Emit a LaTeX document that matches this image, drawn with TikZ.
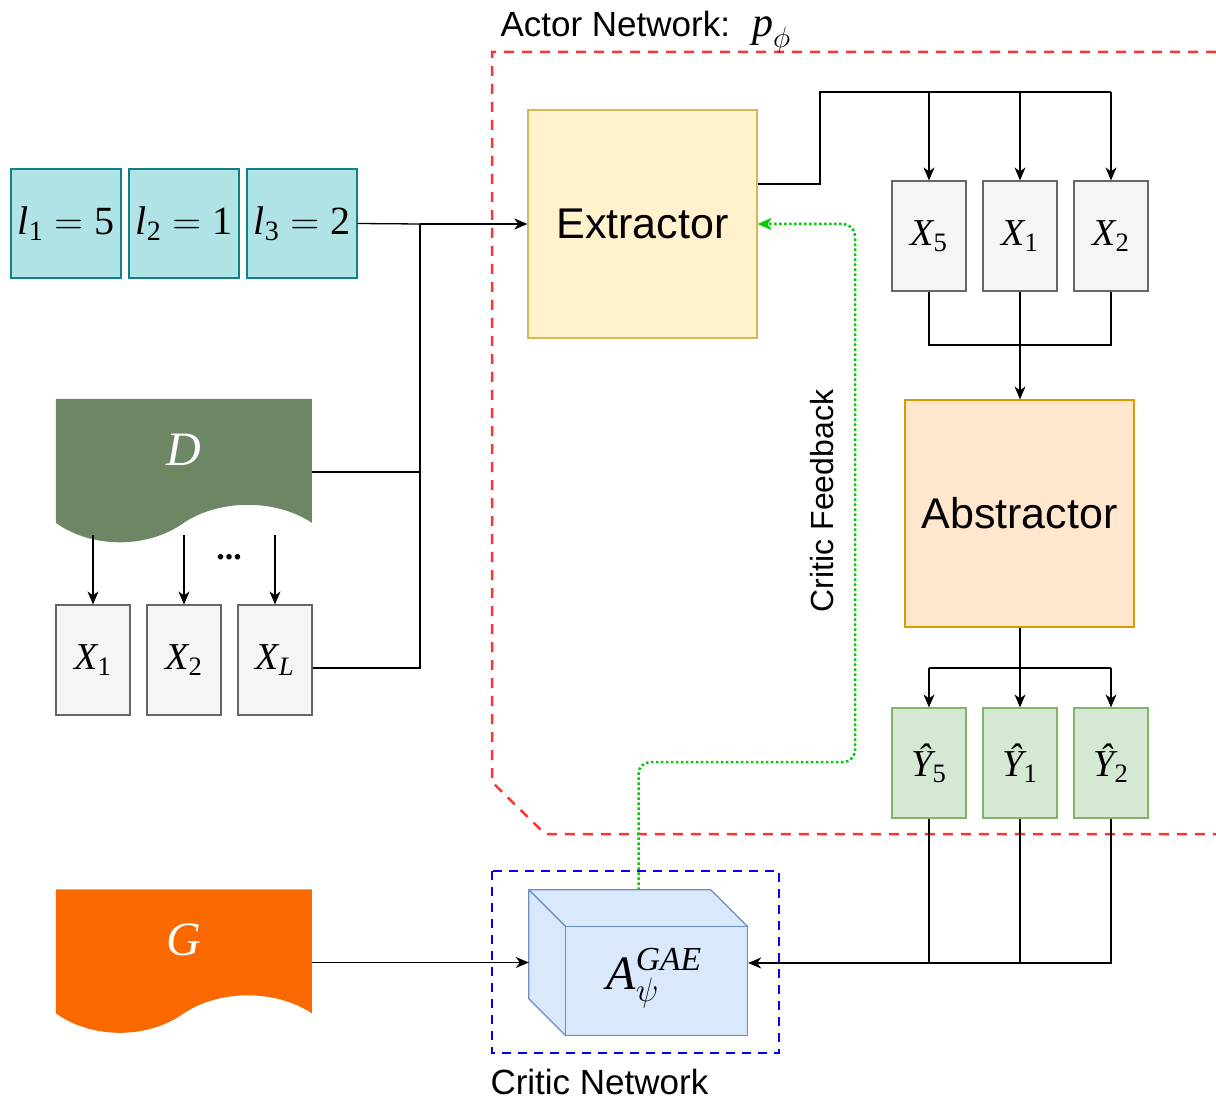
\RequirePackage{fix-cm}
\documentclass[tikz,border=0pt]{standalone}
\usepackage{amsmath}
\usepackage{fontspec}
\setmainfont{Liberation Sans}
\newfontfamily\tms{Liberation Serif}
\usetikzlibrary{arrows.meta}
\definecolor{tealF}{HTML}{B0E3E6}
\definecolor{tealD}{HTML}{0E8088}
\definecolor{extF}{HTML}{FFF2CC}
\definecolor{extD}{HTML}{D6B656}
\definecolor{greyF}{HTML}{F5F5F5}
\definecolor{greyD}{HTML}{666666}
\definecolor{absF}{HTML}{FFE6CC}
\definecolor{absD}{HTML}{D79B00}
\definecolor{yF}{HTML}{D5E8D4}
\definecolor{yD}{HTML}{82B366}
\definecolor{cubeF}{HTML}{DAE8FC}
\definecolor{cubeD}{HTML}{6C8EBF}
\definecolor{dgreen}{HTML}{6D8764}
\definecolor{gorange}{HTML}{FA6800}
\definecolor{actred}{HTML}{FF3333}
\definecolor{crblue}{HTML}{0000FF}
\definecolor{fbgreen}{HTML}{00CC00}
\newcommand{\fsz}[1]{\fontsize{#1}{#1}\selectfont}
\newcommand{\tmi}[1]{\text{\tms\itshape #1}}
\newcommand{\tmr}[1]{\text{\tms #1}}
\begin{document}
\begin{tikzpicture}[x=1pt,y=-1pt,
  tealbox/.style={draw=tealD, fill=tealF, line width=1.2pt, minimum width=110pt, minimum height=109pt, inner sep=0pt, font=\fsz{40}},
  gbox/.style={draw=greyD, fill=greyF, line width=1.2pt, minimum width=74pt, minimum height=110pt, inner sep=0pt, font=\fsz{38}},
  ybox/.style={gbox, draw=yD, fill=yF},
  bigbox/.style={line width=1.2pt, minimum width=229pt, minimum height=228pt, inner sep=0pt, font=\fsz{43}},
  conn/.style={line width=1.3pt, black},
  arr/.style={conn, -{Stealth[length=13pt,width=11pt,inset=4pt]}},
  fb/.style={line width=2.5pt, fbgreen, dash pattern=on 2.5pt off 2.5pt, -{Stealth[length=14pt,width=12pt,inset=4pt]}},
  docnode/.style={minimum width=256pt, minimum height=146pt, inner sep=0pt},
  doclab/.style={text=white, font=\fsz{48}},
  lab/.style={font=\fsz{35}}
]
\useasboundingbox (0,0) rectangle (1216,1099);

% Actor network region
\draw[actred, line width=2.5pt, dash pattern=on 10pt off 8pt] (1216,52) -- (492,52) -- (492,782) -- (545,834) -- (1216,834);
\node[lab, anchor=base west] (actorlab) at (497,37) {Actor Network:\hspace{22pt}{\fsz{42}$\tmi{p}_\phi$}};

% Critic network region
\draw[crblue, line width=2.5pt, dash pattern=on 9pt off 7pt] (492,871) rectangle (779,1053);
\node[lab, anchor=base west] (criticlab) at (487,1094) {Critic Network};

% length boxes
\node[tealbox] (l1) at (66,223.5) {$\tmi{l}_{\tmr{1}}=\tmr{5}$};
\node[tealbox] (l2) at (184,223.5) {$\tmi{l}_{\tmr{2}}=\tmr{1}$};
\node[tealbox] (l3) at (302,223.5) {$\tmi{l}_{\tmr{3}}=\tmr{2}$};

% Extractor and abstractor
\node[bigbox, draw=extD, fill=extF] (ext) at (642.5,224) {Extractor};
\node[bigbox, draw=absD, fill=absF, minimum height=227pt] (abs) at (1019.5,513.5) {Abstractor};

% Selected sentences
\node[gbox] (S5) at (929,236) {$\tmi{X}_{\tmr{5}}$};
\node[gbox] (S1) at (1020,236) {$\tmi{X}_{\tmr{1}}$};
\node[gbox] (S2) at (1111,236) {$\tmi{X}_{\tmr{2}}$};

% Outputs
\node[ybox] (Y5) at (929,763) {$\tmi{Ŷ}_{\tmr{5}}$};
\node[ybox] (Y1) at (1020,763) {$\tmi{Ŷ}_{\tmr{1}}$};
\node[ybox] (Y2) at (1111,763) {$\tmi{Ŷ}_{\tmr{2}}$};

% Document D
\node[docnode] (D) at (184,472) {};
\begin{scope}[shift={(D.north west)}]
  \fill[dgreen] (0,0) -- (256,0) -- (256,124) .. controls (220,100) and (164,100) .. (128,124) .. controls (92,150) and (36,150) .. (0,124) -- cycle;
\end{scope}
\node[doclab] (Dlab) at (184,450) {$\tmi{D}$};

% Sentences X
\node[gbox] (Xa) at (93,660) {$\tmi{X}_{\tmr{1}}$};
\node[gbox] (Xb) at (184,660) {$\tmi{X}_{\tmr{2}}$};
\node[gbox] (Xc) at (275,660) {$\tmi{X}_{\tmi{L}}$};
\node[font=\fsz{34}\tms\bfseries] (dots) at (229,557) {...};

% Document G
\node[docnode] (G) at (184,962.5) {};
\begin{scope}[shift={(G.north west)}]
  \fill[gorange] (0,0) -- (256,0) -- (256,124) .. controls (220,100) and (164,100) .. (128,124) .. controls (92,150) and (36,150) .. (0,124) -- cycle;
\end{scope}
\node[doclab] (Glab) at (184,940) {$\tmi{G}$};

% Critic cube
\node[minimum width=219pt, minimum height=146pt, inner sep=0pt] (cube) at (638.5,963) {};
\begin{scope}[shift={(cube.north west)}, draw=cubeD, fill=cubeF, line width=1.2pt, line join=round]
  \filldraw (0,0) -- (182,0) -- (219,37) -- (37,37) -- cycle;
  \filldraw (0,0) -- (37,37) -- (37,146) -- (0,109) -- cycle;
  \filldraw (37,37) rectangle (219,146);
\end{scope}
\node[font=\fsz{48}] (Alab) at (654,978) {$\tmi{A}_\psi^{\tmi{GAE}}$};

% Critic feedback
\node[font=\fsz{32}, rotate=90] (fblab) at (822,501) {Critic Feedback};

% Connectors: inputs to extractor
\coordinate (j) at (420,224);
\draw[conn] (l3.east) -- (j);
\draw[conn] (D.east) -| (j);
\draw[conn] ([yshift=-8pt]Xc.east) -| (j);
\draw[arr, line width=2pt] (j) -- (ext.west);

% D to sentences
\coordinate (ds) at (0,535);
\draw[arr] (Xa.north |- ds) -- (Xa.north);
\draw[arr] (Xb.north |- ds) -- (Xb.north);
\draw[arr] (Xc.north |- ds) -- (Xc.north);

% Extractor to selected
\coordinate (t) at (820,92);
\draw[conn] ([yshift=40pt]ext.east) -| (t) -- (t -| S2.north);
\draw[arr] (S5.north |- t) -- (S5.north);
\draw[arr] (S1.north |- t) -- (S1.north);
\draw[arr] (S2.north |- t) -- (S2.north);

% Selected to abstractor
\coordinate (m) at (1020,345);
\draw[conn] (S5.south) |- (m);
\draw[conn] (S2.south) |- (m);
\draw[arr] (S1.south) -- (S1.south |- abs.north);

% Abstractor to outputs
\coordinate (n) at (1020,668);
\draw[conn] (abs.south -| n) -- (n);
\draw[conn] (Y5.north |- n) -- (Y2.north |- n);
\draw[arr] (Y5.north |- n) -- (Y5.north);
\draw[arr] (Y1.north |- n) -- (Y1.north);
\draw[arr] (Y2.north |- n) -- (Y2.north);

% Outputs to critic
\draw[conn] (Y5.south) -- (Y5.south |- cube.east);
\draw[conn] (Y1.south) -- (Y1.south |- cube.east);
\draw[arr] (Y2.south) |- (cube.east);

% G to critic
\draw[arr] (G.east) -- (G.east -| cube.west);

% Critic feedback
\draw[fb, rounded corners=12pt] (cube.north) |- (855,762) |- (ext.east);
\end{tikzpicture}
\end{document}
